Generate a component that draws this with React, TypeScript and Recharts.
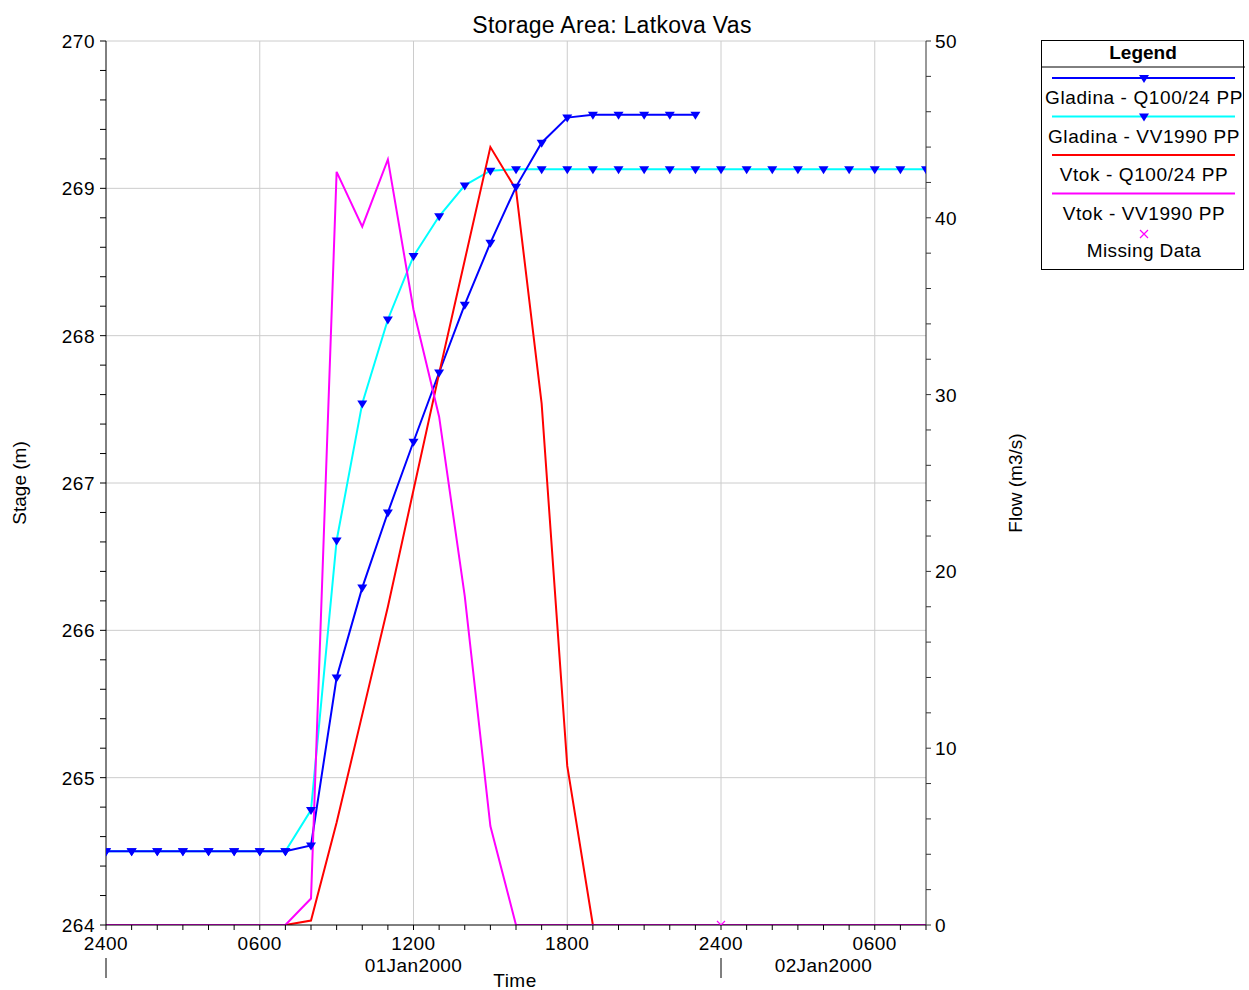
import React from 'react';
import { ComposedChart, Line, Scatter, XAxis, YAxis, ReferenceLine, Legend } from 'recharts';

const FONT = "'Liberation Sans', Arial, sans-serif";

// hours since 2400 on 31Dec1999
const HOURS = [0, 1, 2, 3, 4, 5, 6, 7, 8, 9, 10, 11, 12, 13, 14, 15, 16, 17, 18, 19, 20, 21, 22, 23, 24, 25, 26, 27, 28, 29, 30, 31, 32];

const STAGE_Q100 = [
  264.5, 264.5, 264.5, 264.5, 264.5, 264.5, 264.5, 264.5, 264.54, 265.68, 266.29, 266.8,
  267.28, 267.75, 268.21, 268.63, 269.01, 269.31, 269.48, 269.5, 269.5, 269.5, 269.5, 269.5,
];
const STAGE_VV1990 = [
  264.5, 264.5, 264.5, 264.5, 264.5, 264.5, 264.5, 264.5, 264.78, 266.61, 267.54, 268.11,
  268.54, 268.81, 269.02, 269.12, 269.13, 269.13, 269.13, 269.13, 269.13, 269.13, 269.13, 269.13,
  269.13, 269.13, 269.13, 269.13, 269.13, 269.13, 269.13, 269.13, 269.13,
];
const FLOW_Q100 = [
  0, 0, 0, 0, 0, 0, 0, 0, 0.25, 5.8, 11.9, 18.0,
  24.6, 31.2, 37.6, 44.0, 41.6, 29.5, 9.0, 0, 0, 0, 0, 0,
];
const FLOW_VV1990 = [
  0, 0, 0, 0, 0, 0, 0, 0, 1.5, 42.6, 39.5, 43.3,
  34.8, 28.75, 18.6, 5.6, 0, 0, 0, 0, 0, 0, 0, 0,
  0, 0, 0, 0, 0, 0, 0, 0, 0,
];
const MISSING = [{ h: 24, f: 0 }];

const HOUR_LABELS: Record<number, string> = { 0: '2400', 6: '0600', 12: '1200', 18: '1800', 24: '2400', 30: '0600' };
const DAY_LABELS = [{ h: 12, label: '01Jan2000' }, { h: 28, label: '02Jan2000' }];
const DAY_BREAKS = [0, 24];
const TIME_GRID = [6, 12, 18, 24, 30];

const STAGE_TICKS = [
  264, 264.2, 264.4, 264.6, 264.8, 265, 265.2, 265.4, 265.6, 265.8, 266, 266.2, 266.4, 266.6, 266.8,
  267, 267.2, 267.4, 267.6, 267.8, 268, 268.2, 268.4, 268.6, 268.8, 269, 269.2, 269.4, 269.6, 269.8, 270,
];
const STAGE_GRID = [265, 266, 267, 268, 269, 270];
const FLOW_TICKS = [0, 2, 4, 6, 8, 10, 12, 14, 16, 18, 20, 22, 24, 26, 28, 30, 32, 34, 36, 38, 40, 42, 44, 46, 48, 50];

const LEGEND_ITEMS = [
  { name: 'Gladina - Q100/24 PP', color: '#0000ff', marker: true },
  { name: 'Gladina - VV1990 PP', color: '#00ffff', marker: true },
  { name: 'Vtok - Q100/24 PP', color: '#ff0000', marker: false },
  { name: 'Vtok - VV1990 PP', color: '#ff00ff', marker: false },
];

const data = HOURS.map((h, i) => ({
  h,
  sQ: STAGE_Q100[i],
  sV: STAGE_VV1990[i],
  fQ: FLOW_Q100[i],
  fV: FLOW_VV1990[i],
}));

const tri = (x: number, y: number) => `M${x - 5},${y - 3} L${x + 5},${y - 3} L${x},${y + 5} Z`;

const TriangleDot = (props: any) => {
  const { cx, cy, index } = props;
  if (cx == null || cy == null || isNaN(cy)) return <g key={`e-${index}`} />;
  return <path key={`t-${index}`} d={tri(cx, cy)} fill="#0000ff" stroke="none" />;
};

const TimeTick = (props: any) => {
  const { x, y, payload } = props;
  const v = payload.value;
  const lbl = HOUR_LABELS[v];
  const day = DAY_LABELS.find((d) => d.h === v);
  return (
    <g fontFamily={FONT} fontSize={19} fill="#000">
      {lbl && (
        <text x={x} y={y + 18} textAnchor="middle" letterSpacing={0.5}>{lbl}</text>
      )}
      {day && (
        <text x={x} y={y + 40} textAnchor="middle" letterSpacing={0.4}>{day.label}</text>
      )}
      {DAY_BREAKS.includes(v) && <line x1={x} x2={x} y1={y + 26} y2={y + 46} stroke="#000" />}
    </g>
  );
};

const StageTick = (props: any) => {
  const { x, y, payload } = props;
  if (!Number.isInteger(payload.value)) return <g />;
  return (
    <text x={x} y={y + 7} textAnchor="end" fontFamily={FONT} fontSize={19} letterSpacing={0.5} fill="#000">{payload.value}</text>
  );
};

const FlowTick = (props: any) => {
  const { x, y, payload } = props;
  if (payload.value % 10 !== 0) return <g />;
  return (
    <text x={x} y={y + 7} textAnchor="start" fontFamily={FONT} fontSize={19} letterSpacing={0.5} fill="#000">{payload.value}</text>
  );
};

const CrossShape = (props: any) => {
  const { cx, cy } = props;
  return (
    <path d={`M${cx - 4},${cy - 4} L${cx + 4},${cy + 4} M${cx - 4},${cy + 4} L${cx + 4},${cy - 4}`} stroke="#ff00ff" strokeWidth={1.2} />
  );
};

const LegendBox = () => (
  <svg width={204} height={231} style={{ overflow: 'visible', display: 'block' }} fontFamily={FONT}>
    <rect x={0.5} y={0.5} width={202} height={229} fill="#fff" stroke="#000" />
    <text x={102} y={19} textAnchor="middle" fontSize={19} fontWeight="bold">Legend</text>
    <line x1={0} x2={204} y1={27} y2={27} stroke="#000" />
    {LEGEND_ITEMS.map((it, i) => {
      const ly = 38 + i * 38.5;
      return (
        <g key={it.name}>
          <line x1={11} x2={194} y1={ly} y2={ly} stroke={it.color} strokeWidth={2} />
          {it.marker && <path d={tri(103, ly)} fill="#0000ff" />}
          <text x={103} y={ly + 26} textAnchor="middle" fontSize={19} letterSpacing={0.6}>{it.name}</text>
        </g>
      );
    })}
    <path d="M99,190 L107,198 M99,198 L107,190" stroke="#ff00ff" strokeWidth={1.2} />
    <text x={103} y={217} textAnchor="middle" fontSize={19} letterSpacing={0.4}>Missing Data</text>
  </svg>
);

export default function App() {
  return (
    <div style={{ position: 'absolute', left: 0, top: 0, background: '#fff' }}>
      <ComposedChart
        width={1249}
        height={990}
        data={data}
        margin={{ top: 41, left: 46, right: 263, bottom: 35 }}
      >
        {STAGE_GRID.map((v) => (
          <ReferenceLine key={`gy-${v}`} yAxisId="left" y={v} stroke="#cccccc" strokeWidth={1} ifOverflow="extendDomain" />
        ))}
        {TIME_GRID.map((v) => (
          <ReferenceLine key={`gx-${v}`} yAxisId="left" x={v} stroke="#cccccc" strokeWidth={1} />
        ))}
        <XAxis
          dataKey="h"
          type="number"
          domain={[0, 32]}
          ticks={HOURS}
          interval={0}
          tickSize={5}
          tickMargin={2}
          height={30}
          stroke="#000"
          tickLine={{ stroke: '#000' }}
          tick={<TimeTick />}
          allowDataOverflow
        />
        <YAxis
          yAxisId="left"
          orientation="left"
          type="number"
          domain={[264, 270]}
          ticks={STAGE_TICKS}
          interval={0}
          width={60}
          tickSize={6}
          tickMargin={5}
          stroke="#000"
          tickLine={{ stroke: '#000' }}
          tick={<StageTick />}
          allowDataOverflow
        />
        <YAxis
          yAxisId="right"
          orientation="right"
          type="number"
          domain={[0, 50]}
          ticks={FLOW_TICKS}
          interval={0}
          width={60}
          tickSize={5}
          tickMargin={4}
          stroke="#333"
          tickLine={{ stroke: '#333' }}
          tick={<FlowTick />}
          allowDataOverflow
        />
        <Line yAxisId="left" dataKey="sV" name="Gladina - VV1990 PP" stroke="#00ffff" strokeWidth={2} dot={TriangleDot} activeDot={false} isAnimationActive={false} />
        <Line yAxisId="left" dataKey="sQ" name="Gladina - Q100/24 PP" stroke="#0000ff" strokeWidth={2} dot={TriangleDot} activeDot={false} isAnimationActive={false} />
        <Line yAxisId="right" dataKey="fQ" name="Vtok - Q100/24 PP" stroke="#ff0000" strokeWidth={2} dot={false} activeDot={false} isAnimationActive={false} />
        <Line yAxisId="right" dataKey="fV" name="Vtok - VV1990 PP" stroke="#ff00ff" strokeWidth={2} dot={false} activeDot={false} isAnimationActive={false} />
        <Scatter yAxisId="right" data={MISSING} dataKey="f" name="Missing Data" fill="#ff00ff" shape={<CrossShape />} isAnimationActive={false} />
        <Legend
          layout="vertical"
          align="center"
          verticalAlign="middle"
          content={() => <LegendBox />}
          wrapperStyle={{ position: 'absolute', left: 1041, top: 40, width: 204, height: 231 }}
        />
        <text x={612} y={33} textAnchor="middle" fontFamily={FONT} fontSize={23} letterSpacing={0.3} fill="#000">Storage Area: Latkova Vas</text>
        <text x={26} y={483} textAnchor="middle" transform="rotate(-90 26 483)" fontFamily={FONT} fontSize={19} fill="#000">Stage (m)</text>
        <text x={1022} y={483} textAnchor="middle" transform="rotate(-90 1022 483)" fontFamily={FONT} fontSize={19} fill="#000">Flow (m3/s)</text>
        <text x={515} y={987} textAnchor="middle" fontFamily={FONT} fontSize={19} letterSpacing={0.5} fill="#000">Time</text>
      </ComposedChart>
    </div>
  );
}
